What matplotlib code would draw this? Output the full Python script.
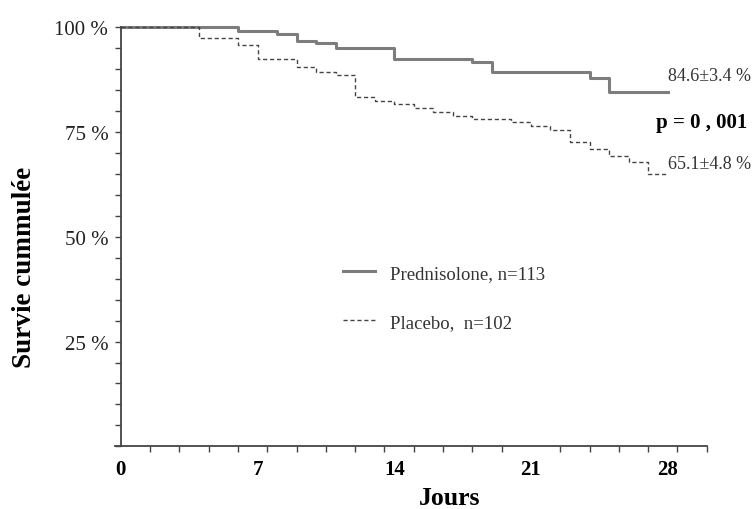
import numpy as np
import matplotlib
matplotlib.use("Agg")
import matplotlib.pyplot as plt
from matplotlib.ticker import FixedLocator, MultipleLocator

# ------------------ DATA ------------------
PRED_DAYS = [0, 6, 8, 9, 10, 11, 14, 18, 19, 24, 25, 28]
PRED_SURV = [100, 99.2, 98.5, 96.8, 96.2, 95.0, 92.4, 91.6, 89.3, 87.8, 84.6, 84.6]

PLAC_DAYS = [0, 4, 6, 7, 9, 10, 11, 12, 13, 14, 15, 16, 17, 18, 20, 21, 22, 23,
             24, 25, 26, 27, 28]
PLAC_SURV = [100, 97.5, 95.8, 92.4, 90.6, 89.4, 88.5, 83.3, 82.5, 81.7, 80.7, 79.7,
             78.9, 78.1, 77.3, 76.4, 75.4, 72.6, 71.0, 69.4, 67.8, 65.1, 65.1]

X_LABELS = [0, 7, 14, 21, 28]
Y_LABELS = [25, 50, 75, 100]

SERIF = ["Liberation Serif", "DejaVu Serif"]
plt.rcParams["font.family"] = SERIF

# ------------------ PLOT ------------------
fig = plt.figure(figsize=(7.53, 5.10), dpi=100)
# left edge a bit before day 0 so the x axis pokes out past the y axis
ax = fig.add_axes([115 / 753, 1 - 447.3 / 510, 591.7 / 753, 419 / 510])

ax.step(PRED_DAYS, PRED_SURV, where="post", color="#7d7d7d", linewidth=2.2,
        clip_on=False, label="Prednisolone, n=113")
ax.step(PLAC_DAYS, PLAC_SURV, where="post", color="#444444", linewidth=1.0,
        linestyle=(0, (3, 2)), clip_on=False, label="Placebo,  n=102")

ax.set_xlim(-0.3, 30)
ax.set_ylim(0, 100)
ax.spines["left"].set_position(("data", 0))
ax.spines["top"].set_visible(False)
ax.spines["right"].set_visible(False)
for s in ("left", "bottom"):
    ax.spines[s].set_color("#444444")
    ax.spines[s].set_linewidth(1.3)

ax.xaxis.set_major_locator(FixedLocator(X_LABELS))
ax.xaxis.set_minor_locator(FixedLocator(np.arange(0, 30.01, 1.5)))
ax.set_xticklabels([str(v) for v in X_LABELS], fontsize=15, fontweight="bold")
ax.tick_params(axis="x", which="major", length=0, pad=9)
ax.tick_params(axis="x", which="minor", length=4.5, width=1.0, color="#444444")

ax.yaxis.set_major_locator(FixedLocator(Y_LABELS))
ax.yaxis.set_minor_locator(MultipleLocator(5))
ax.set_yticklabels([f"{v} %" for v in Y_LABELS], fontsize=15, color="#222222")
ax.tick_params(axis="y", which="both", length=4.5, width=1.0, color="#444444", pad=4.5)

ax.set_xlabel("Jours", fontsize=18.5, fontweight="bold", va="center")
ax.xaxis.set_label_coords(0.566, -0.122)
ax.set_ylabel("Survie cummulée", fontsize=19.5, fontweight="bold", va="center")
ax.yaxis.set_label_coords(-0.153, 0.43)

# annotations at the right end
ax.text(28.0, 88.4, "84.6±3.4 %", fontsize=13, color="#333333", ha="left", va="center",
        clip_on=False)
ax.text(27.4, 77.3, "p = 0 , 001", fontsize=15, fontweight="bold", ha="left",
        va="center", clip_on=False)
ax.text(28.0, 67.4, "65.1±4.8 %", fontsize=13, color="#333333", ha="left", va="center",
        clip_on=False)

leg = ax.legend(loc="center left", bbox_to_anchor=(0.385, 0.354), frameon=False,
                fontsize=13.5, handlelength=1.7, labelspacing=1.7, handletextpad=0.8,
                borderpad=0, borderaxespad=0)
for t in leg.get_texts():
    t.set_color("#333333")

fig.savefig("out.png", dpi=100)
